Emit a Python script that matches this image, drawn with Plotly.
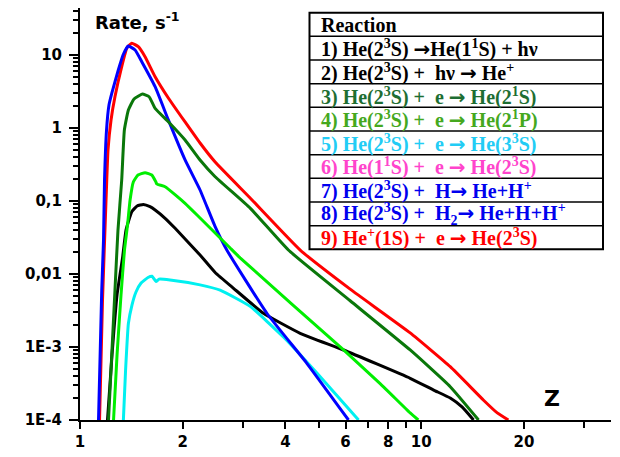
import plotly.graph_objects as go

# ---------------- data ----------------
z_red = [1.141, 1.164, 1.192, 1.208, 1.233, 1.266, 1.325, 1.371, 1.418, 1.482, 1.551, 1.660,
         1.815, 2.032, 2.248, 2.489, 3.152, 4.418, 6.19, 9.28, 12.16, 15.2, 16.7, 18.0]
r_red = [1e-4, 4.4e-3, 0.103, 0.5, 1.29, 2.68, 6.92, 12.4, 14.5, 13.0, 9.48, 5.05,
         2.58, 1.21, 0.623, 0.342, 0.110, 0.0213, 6.2e-3, 1.56e-3, 5.37e-4, 1.88e-4, 1.25e-4, 1e-4]

z_blue = [1.133, 1.158, 1.172, 1.180, 1.196, 1.216, 1.239, 1.295, 1.337, 1.385, 1.450, 1.517,
          1.660, 1.815, 2.032, 2.248, 2.489, 2.693, 3.528, 4.62, 6.12]
r_blue = [1e-4, 6.0e-3, 0.0292, 0.194, 0.939, 2.07, 2.99, 6.23, 10.0, 13.3, 11.7, 8.1,
          3.68, 1.29, 0.365, 0.1415, 0.0445, 0.0213, 2.9e-3, 5.98e-4, 1e-4]

z_dgreen = [1.212, 1.239, 1.266, 1.292, 1.325, 1.349, 1.386, 1.44, 1.523, 1.594, 1.660, 1.815,
            2.032, 2.248, 2.489, 3.152, 4.08, 6.19, 9.28, 12.16, 14.72]
r_dgreen = [1e-4, 7.8e-4, 6.0e-3, 0.040, 0.194, 0.939, 1.764, 2.5, 2.92, 2.68, 1.86, 1.22,
            0.685, 0.364, 0.215, 0.080, 0.0213, 4.3e-3, 9.1e-4, 2.86e-4, 1e-4]

z_green = [1.254, 1.284, 1.319, 1.350, 1.378, 1.402, 1.433, 1.479, 1.551, 1.623, 1.667, 1.679,
           1.776, 2.032, 2.248, 2.489, 2.754, 2.946, 5.92, 7.59, 9.28, 9.80]
r_green = [1e-4, 7.8e-4, 5.2e-3, 0.0213, 0.0469, 0.103, 0.182, 0.227, 0.244, 0.227, 0.184, 0.171,
           0.157, 0.093, 0.0585, 0.0365, 0.0227, 0.0166, 9.1e-4, 3.13e-4, 1.25e-4, 1e-4]

z_black = [1.204, 1.241, 1.284, 1.334, 1.364, 1.418, 1.470, 1.533, 1.604, 1.660, 1.776, 1.90,
           2.248, 2.489, 2.818, 3.447, 4.418, 5.92, 9.28, 10.87, 12.16, 13.19, 14.23]
r_black = [1e-4, 7.8e-4, 5.2e-3, 0.0173, 0.040, 0.0713, 0.0855, 0.0896, 0.0835, 0.0753, 0.058, 0.0423,
           0.0182, 0.0105, 6.37e-3, 2.9e-3, 1.54e-3, 9.1e-4, 3.73e-4, 2.57e-4, 2.0e-4, 1.5e-4, 1e-4]

z_cyan = [1.340, 1.36, 1.386, 1.420, 1.459, 1.510, 1.582, 1.626, 1.670, 1.705, 1.836,
          2.248, 2.574, 3.152, 3.946, 4.945, 6.55]
r_cyan = [1e-4, 4.8e-4, 2.1e-3, 3.76e-3, 5.67e-3, 7.53e-3, 8.96e-3, 9.3e-3, 7.9e-3, 8.5e-3, 8.28e-3,
          7.1e-3, 6.0e-3, 3.6e-3, 1.37e-3, 4.4e-4, 1e-4]

x_tickvals = [1, 2, 4, 6, 8, 10, 20]
x_ticktext = ["1", "2", "4", "6", "8", "10", "20"]
x_minor = [3, 5, 7, 9, 30]
y_tickvals = [1e-4, 1e-3, 1e-2, 1e-1, 1, 10]
y_ticktext = ["1E-4", "1E-3", "0,01", "0,1", "1", "10"]

ARW = '<span style="font-family:DejaVu Sans">→</span>'
SP = "\u00a0"
legend_header = "Reaction"
legend_rows = [
    "1)" + SP + "He(2<sup>3</sup>S) " + ARW + "He(1<sup>1</sup>S) + hν",
    "2) He(2<sup>3</sup>S) +" + SP + SP + "hν " + ARW + " He<sup>+</sup>",
    "3) He(2<sup>3</sup>S) +" + SP + SP + "e " + ARW + " He(2<sup>1</sup>S)",
    "4) He(2<sup>3</sup>S) +" + SP + SP + "e " + ARW + " He(2<sup>1</sup>P)",
    "5) He(2<sup>3</sup>S) +" + SP + SP + "e " + ARW + " He(3<sup>3</sup>S)",
    "6) He(1<sup>1</sup>S) +" + SP + SP + "e " + ARW + " He(2<sup>3</sup>S)",
    "7) He(2<sup>3</sup>S) +" + SP + SP + "H" + ARW + " He+H<sup>+</sup>",
    "8) He(2<sup>3</sup>S) +" + SP + SP + "H<sub>2</sub>" + ARW + " He+H+H<sup>+</sup>",
    "9) He<sup>+</sup>(1S) +" + SP + SP + "e " + ARW + " He(2<sup>3</sup>S)",
]
legend_colors = ["#000000", "#000000", "#1e6e32", "#45a81e", "#22ccf5",
                 "#ff44cc", "#0000ee", "#0000ee", "#ff0000"]

# ---------------- figure ----------------
# the page body adds an 8px offset; size the figure so the plot lands where the reference has it
OFF = 8
W, H = 620 - OFF, 457 - OFF
PL, PR, PT, PB = 80, 611, OFF, 420   # plot area in window pixels
ML, MR, MT, MB = PL - OFF, W - (PR - OFF), 0, H - (PB - OFF)


def pxx(x):
    return (x - PL) / (PR - PL)


def pxy(y):
    return (PB - y) / (PB - PT)


fig = go.Figure()
series = [
    ("2) black", z_black, r_black, "#000000"),
    ("5) cyan", z_cyan, r_cyan, "#00f0f0"),
    ("9) red", z_red, r_red, "#ff0000"),
    ("7) blue", z_blue, r_blue, "#0000ff"),
    ("3) dark green", z_dgreen, r_dgreen, "#0a770a"),
    ("4) green", z_green, r_green, "#00ee00"),
]
for name, zx, ry, col in series:
    fig.add_trace(go.Scatter(x=zx, y=ry, mode="lines", name=name,
                             line=dict(color=col, width=3, shape="spline", smoothing=0.4),
                             showlegend=False))

tickfont = dict(family="DejaVu Sans", size=15, color="black", weight="bold")
fig.update_xaxes(type="log", range=[0, 1.556], showgrid=False, zeroline=False,
                 automargin=False,
                 showline=True, linewidth=2, linecolor="black",
                 ticks="outside", ticklen=7, tickwidth=2, tickcolor="black",
                 tickmode="array", tickvals=x_tickvals, ticktext=x_ticktext,
                 tickfont=tickfont, ticklabelstandoff=0,
                 minor=dict(tickmode="array", tickvals=x_minor, ticks="outside",
                            ticklen=6, tickwidth=2, tickcolor="black"))
y_minor = [m * 10 ** e for e in range(-4, 2) for m in range(2, 10) if m * 10 ** e <= 50]
fig.update_yaxes(type="log", range=[-4, 1.644], showgrid=False, zeroline=False,
                 automargin=False,
                 showline=True, linewidth=2, linecolor="black",
                 ticks="outside", ticklen=9, tickwidth=2, tickcolor="black",
                 tickmode="array", tickvals=y_tickvals, ticktext=y_ticktext,
                 tickfont=tickfont, ticklabelstandoff=4,
                 minor=dict(tickmode="array", tickvals=y_minor, ticks="outside",
                            ticklen=5, tickwidth=1.5, tickcolor="black"))

annotations = [
    dict(x=pxx(93), y=pxy(21), xref="paper", yref="paper", xanchor="left", yanchor="middle",
         text="Rate, s<sup>-1</sup>", showarrow=False,
         font=dict(family="DejaVu Sans", size=18, color="black", weight="bold")),
    dict(x=pxx(552), y=pxy(398), xref="paper", yref="paper", xanchor="center", yanchor="middle",
         text="Z", showarrow=False,
         font=dict(family="DejaVu Sans", size=22, color="black", weight="bold")),
]

# legend table
top, bot, left, right = 12.7, 249.3, 309.5, 603
rowh = (bot - top) / 10
shapes = [dict(type="rect", xref="paper", yref="paper", x0=pxx(left), x1=pxx(right),
               y0=pxy(bot), y1=pxy(top), line=dict(color="black", width=2),
               fillcolor="white", layer="above")]
for k in range(1, 10):
    yy = top + k * rowh
    shapes.append(dict(type="line", xref="paper", yref="paper", x0=pxx(left), x1=pxx(right),
                       y0=pxy(yy), y1=pxy(yy), line=dict(color="black", width=1.5), layer="above"))
texts = [legend_header] + legend_rows
cols = ["#000000"] + legend_colors
for k, (t, c) in enumerate(zip(texts, cols)):
    yc = top + (k + 0.5) * rowh
    annotations.append(dict(x=pxx(319), y=pxy(yc + 0.5), xref="paper", yref="paper",
                            xanchor="left", yanchor="middle", text=t, showarrow=False,
                            font=dict(family="Liberation Serif", size=20, color=c, weight="bold")))

fig.update_layout(width=W, height=H, margin=dict(l=ML, r=MR, t=MT, b=MB),
                  plot_bgcolor="white", paper_bgcolor="white",
                  shapes=shapes, annotations=annotations, showlegend=False)

fig.write_html("out.html")
